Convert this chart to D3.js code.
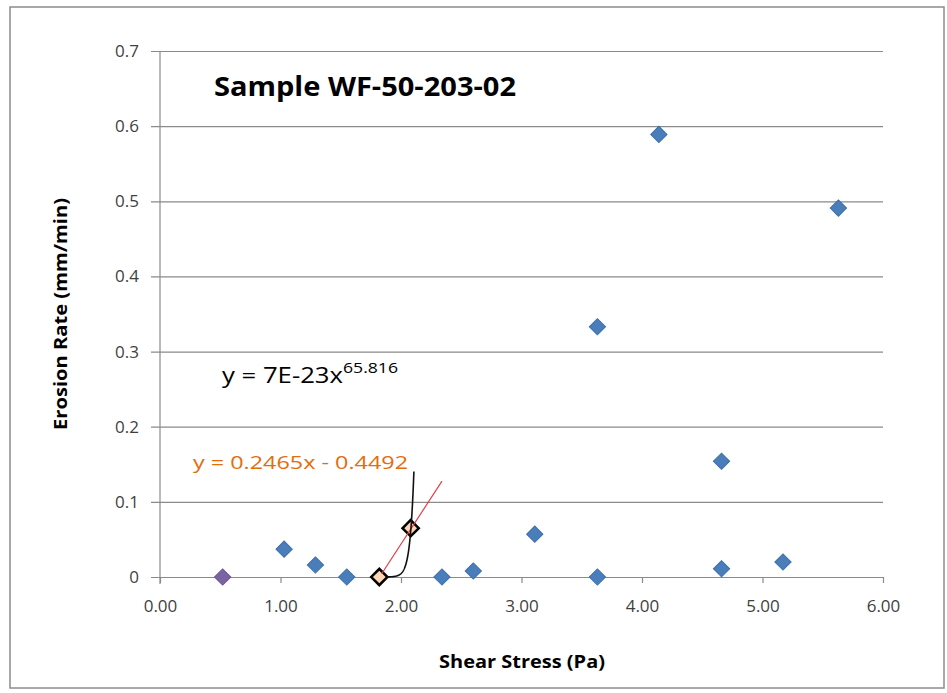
<!DOCTYPE html>
<html>
<head>
<meta charset="utf-8">
<script src="https://cdn.jsdelivr.net/npm/d3@7"></script>
<style>
  body { margin: 0; background: #fff; }
  text { font-family: "Open Sans", "DejaVu Sans", sans-serif; }
</style>
</head>
<body>
<div id="wrapper"></div>
<script>
// data
const mainShear   = [1.03, 1.29, 1.55, 2.34, 2.60, 3.11, 3.63, 3.63, 4.14, 4.66, 4.66, 5.17, 5.63];
const mainErosion = [0.037, 0.016, 0.0, 0.0, 0.008, 0.057, 0.0, 0.333, 0.589, 0.011, 0.154, 0.020, 0.491];
const fitShear    = [1.82, 2.08];
const fitErosion  = [0.0, 0.065];
const lowShear    = [0.52];
const lowErosion  = [0.0];

const xTicks = [0, 1, 2, 3, 4, 5, 6];
const yTicks = [0, 0.1, 0.2, 0.3, 0.4, 0.5, 0.6, 0.7];

// trendlines: linear y = a x + b, power y = c x^p
const linearCoef = [0.2465, -0.4492];
const linearRange = [1.84, 2.34];
const powerCoef = [7e-23, 65.816];
const powerRange = [1.88, 2.107];

const titleText = "Sample WF-50-203-02";
const xLabel = "Shear Stress (Pa)";
const yLabel = "Erosion Rate (mm/min)";

function drawChart() {
  const dimensions = {
    width: 947,
    height: 693,
    margin: { top: 51, right: 64, bottom: 116, left: 160 },
  };
  dimensions.boundedWidth = dimensions.width - dimensions.margin.left - dimensions.margin.right;
  dimensions.boundedHeight = dimensions.height - dimensions.margin.top - dimensions.margin.bottom;

  const wrapper = d3.select("#wrapper")
    .append("svg")
    .attr("width", dimensions.width)
    .attr("height", dimensions.height);

  // outer frame
  wrapper.append("rect")
    .attr("x", 10).attr("y", 7)
    .attr("width", 934).attr("height", 681)
    .attr("fill", "none")
    .attr("stroke", "#8c8c8c")
    .attr("stroke-width", 1.5);

  const bounds = wrapper.append("g")
    .attr("transform", `translate(${dimensions.margin.left},${dimensions.margin.top})`);

  const xScale = d3.scaleLinear().domain([0, 6]).range([0, dimensions.boundedWidth]);
  const yScale = d3.scaleLinear().domain([0, 0.7]).range([dimensions.boundedHeight, 0]);

  // gridlines + y axis
  const yAxis = bounds.append("g")
    .call(d3.axisLeft(yScale).tickValues(yTicks).tickSize(-dimensions.boundedWidth - 9).tickPadding(14)
      .tickFormat(d => d === 0 ? "0" : d3.format(".1f")(d)))
    .attr("transform", "translate(-9,0)");
  yAxis.select(".domain").remove();
  yAxis.selectAll("line").attr("stroke", "#8a8a8a").attr("stroke-width", 1.2);
  yAxis.selectAll("text")
    .attr("x", -12)
    .attr("fill", "#3f3f3f")
    .style("font-size", "17px");

  bounds.append("line")
    .attr("x1", 0).attr("x2", 0)
    .attr("y1", 0).attr("y2", dimensions.boundedHeight + 7)
    .attr("stroke", "#8a8a8a").attr("stroke-width", 1.2);

  // x axis
  const xAxis = bounds.append("g")
    .attr("transform", `translate(0,${dimensions.boundedHeight})`)
    .call(d3.axisBottom(xScale).tickValues(xTicks).tickSize(6).tickPadding(17).tickFormat(d3.format(".2f")));
  xAxis.select(".domain").remove();
  xAxis.selectAll("line").attr("stroke", "#8a8a8a").attr("stroke-width", 1.2);
  xAxis.selectAll("text").attr("fill", "#3f3f3f").style("font-size", "17px");

  const diamond = d3.symbol().type(d3.symbolSquare).size(132);

  const drawMarkers = (xs, ys, fill, stroke, sw) => {
    bounds.append("g")
      .selectAll("path")
      .data(xs.map((x, i) => [x, ys[i]]))
      .join("path")
      .attr("d", diamond)
      .attr("transform", d => `translate(${xScale(d[0])},${yScale(d[1])}) rotate(45)`)
      .attr("fill", fill)
      .attr("stroke", stroke)
      .attr("stroke-width", sw);
  };

  drawMarkers(mainShear, mainErosion, "#4a7ebb", "#3d6ea8", 1);
  drawMarkers(lowShear, lowErosion, "#7b62a3", "#6a5392", 1);
  drawMarkers(fitShear, fitErosion, "#fcd5b5", "#000", 2.5);

  // linear trendline
  const lineGen = d3.line().x(d => xScale(d[0])).y(d => yScale(d[1]));
  bounds.append("path")
    .attr("d", lineGen(linearRange.map(x => [x, linearCoef[0] * x + linearCoef[1]])))
    .attr("fill", "none")
    .attr("stroke", "#e0404a")
    .attr("stroke-width", 1.2);

  // power trendline
  const powerPts = d3.range(powerRange[0], powerRange[1], 0.002)
    .concat([powerRange[1]])
    .map(x => [x, powerCoef[0] * Math.pow(x, powerCoef[1])]);
  bounds.append("path")
    .attr("d", lineGen(powerPts))
    .attr("fill", "none")
    .attr("stroke", "#111")
    .attr("stroke-width", 1.6);

  // title and equations
  wrapper.append("text")
    .attr("x", 214).attr("y", 96)
    .attr("textLength", 302).attr("lengthAdjust", "spacingAndGlyphs")
    .style("font-size", "26px").style("font-weight", "bold")
    .attr("fill", "#000")
    .text(titleText);

  const powerEq = wrapper.append("text")
    .attr("x", 222).attr("y", 383)
    .attr("fill", "#000");
  powerEq.append("tspan")
    .style("font-size", "21px")
    .attr("textLength", 121).attr("lengthAdjust", "spacingAndGlyphs")
    .text("y = 7E-23x");
  powerEq.append("tspan").attr("dy", -10).style("font-size", "15px")
    .attr("textLength", 55).attr("lengthAdjust", "spacingAndGlyphs")
    .text("65.816");

  wrapper.append("text")
    .attr("x", 193).attr("y", 469)
    .attr("textLength", 215).attr("lengthAdjust", "spacingAndGlyphs")
    .style("font-size", "19px")
    .attr("fill", "#e46c0a")
    .text("y = 0.2465x - 0.4492");

  // axis labels
  wrapper.append("text")
    .attr("x", 522).attr("y", 668)
    .attr("text-anchor", "middle")
    .attr("textLength", 166).attr("lengthAdjust", "spacingAndGlyphs")
    .style("font-size", "17px").style("font-weight", "bold")
    .text(xLabel);

  wrapper.append("text")
    .attr("transform", "translate(67,314) rotate(-90)")
    .attr("text-anchor", "middle")
    .attr("textLength", 232).attr("lengthAdjust", "spacingAndGlyphs")
    .style("font-size", "17px").style("font-weight", "bold")
    .text(yLabel);
}
drawChart();
</script>
</body>
</html>
